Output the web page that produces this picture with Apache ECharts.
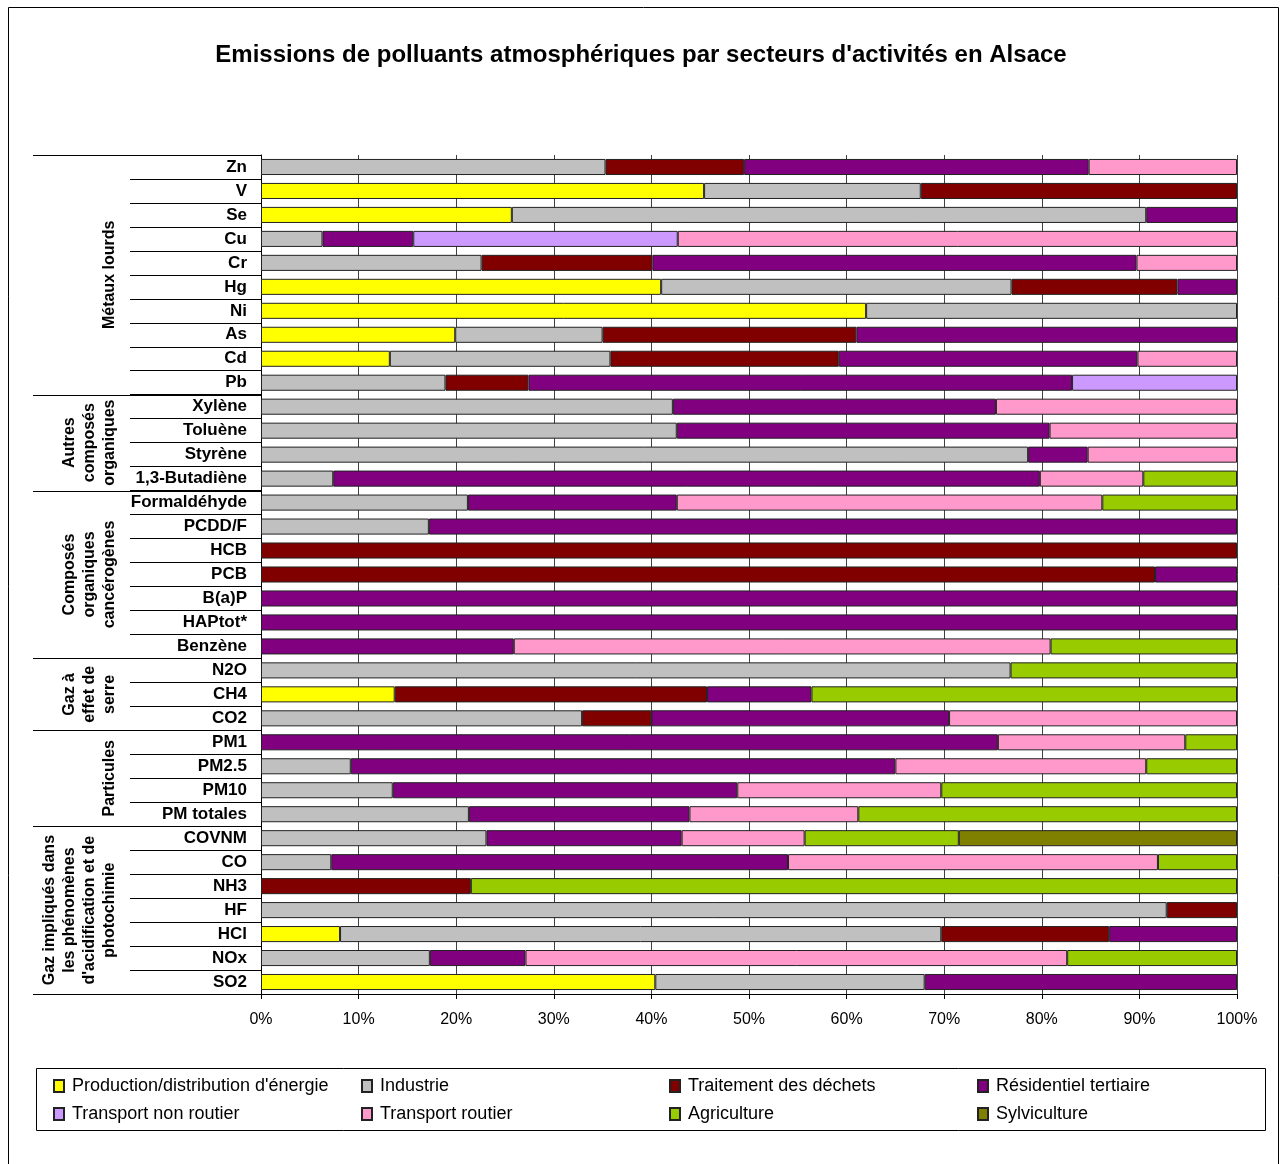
<!DOCTYPE html>
<html><head><meta charset="utf-8">
<script src="https://cdn.jsdelivr.net/npm/echarts@6/dist/echarts.min.js"></script>
<style>html,body{margin:0;padding:0;background:#fff}#c{width:1282px;height:1164px}</style>
</head><body><div id="c"></div><script>
const _ = null;
const FONT = 'Liberation Sans, Arial, sans-serif';
const titleText = "Emissions de polluants atmosphériques par secteurs d'activités en Alsace";
const categories = ['Zn','V','Se','Cu','Cr','Hg','Ni','As','Cd','Pb',
  'Xylène','Toluène','Styrène','1,3-Butadiène',
  'Formaldéhyde','PCDD/F','HCB','PCB','B(a)P','HAPtot*','Benzène',
  'N2O','CH4','CO2',
  'PM1','PM2.5','PM10','PM totales',
  'COVNM','CO','NH3','HF','HCl','NOx','SO2'];
const groupLabels = ['Métaux lourds', 'Autres\ncomposés\norganiques', 'Composés\norganiques\ncancérogènes',
  'Gaz à\neffet de\nserre', 'Particules', "Gaz impliqués dans\nles phénomènes\nd'acidification et de\nphotochimie"];
const groupSizes = [10, 4, 7, 3, 4, 7];
const seriesNames = ["Production/distribution d'énergie", 'Industrie', 'Traitement des déchets', 'Résidentiel tertiaire',
  'Transport non routier', 'Transport routier', 'Agriculture', 'Sylviculture'];
const seriesColors = ['#FFFF00', '#C0C0C0', '#800000', '#800080', '#CC99FF', '#FF99CC', '#99CC00', '#808000'];
const xTicks = [0, 10, 20, 30, 40, 50, 60, 70, 80, 90, 100];

//                Zn   V    Se   Cu   Cr   Hg   Ni   As   Cd   Pb   Xyl  Tol  Sty  But  Form PCDD HCB  PCB  BaP  HAP  Benz N2O  CH4  CO2  PM1  PM25 PM10 PMt  COV  CO   NH3  HF   HCl  NOx  SO2
const energie =    [_,   45.4,25.7,_,   _,   41.0,62.0,19.9,13.2,_,   _,   _,   _,   _,   _,   _,   _,   _,   _,   _,   _,   _,   13.7,_,   _,   _,   _,   _,   _,   _,   _,   _,   8.1, _,   40.4];
const industrie =  [35.3,22.2,65.0,6.3, 22.6,35.9,38.0,15.1,22.6,18.9,42.2,42.6,78.6,7.4, 21.2,17.2,_,   _,   _,   _,   _,   76.8,_,   32.9,_,   9.2, 13.5,21.3,23.1,7.2, _,   92.8,61.6,17.3,27.6];
const dechets =    [14.2,32.4,_,   _,   17.5,17.0,_,   26.0,23.4,8.5, _,   _,   _,   _,   _,   _,   100, 91.6,_,   _,   _,   _,   32.0,7.1, _,   _,   _,   _,   _,   _,   21.5,7.2, 17.2,_,   _];
const residentiel =[35.3,_,   9.3, 9.3, 49.6,6.1, _,   39.0,30.6,55.7,33.1,38.2,6.1, 72.4,21.4,82.8,_,   8.4, 100, 100, 25.9,_,   10.7,30.5,75.5,55.8,35.3,22.6,20.0,46.8,_,   _,   13.1,9.8, 32.0];
const nonRoutier = [_,   _,   _,   27.1,_,   _,   _,   _,   _,   16.9,_,   _,   _,   _,   _,   _,   _,   _,   _,   _,   _,   _,   _,   _,   _,   _,   _,   _,   _,   _,   _,   _,   _,   _,   _];
const routier =    [15.2,_,   _,   57.3,10.3,_,   _,   _,   10.2,_,   24.7,19.2,15.3,10.6,43.6,_,   _,   _,   _,   _,   55.0,_,   _,   29.5,19.2,25.7,20.9,17.3,12.6,37.9,_,   _,   _,   55.5,_];
const agriculture =[_,   _,   _,   _,   _,   _,   _,   _,   _,   _,   _,   _,   _,   9.6, 13.8,_,   _,   _,   _,   _,   19.1,23.2,43.6,_,   5.3, 9.3, 30.3,38.8,15.8,8.1, 78.5,_,   _,   17.4,_];
const sylviculture=[_,   _,   _,   _,   _,   _,   _,   _,   _,   _,   _,   _,   _,   _,   _,   _,   _,   _,   _,   _,   _,   _,   _,   _,   _,   _,   _,   _,   28.5,_,   _,   _,   _,   _,   _];
const seriesData = [energie, industrie, dechets, residentiel, nonRoutier, routier, agriculture, sylviculture];

const chart = echarts.init(document.getElementById('c'), null, {renderer: 'canvas'});

const legendCols = [[0, 4], [1, 5], [2, 6], [3, 7]];
const legendLefts = [53, 361, 669, 977];

const option = {
  backgroundColor: '#fff',
  animation: false,
  title: {
    text: titleText, left: 'center', top: 38,
    textStyle: {fontFamily: FONT, fontSize: 24, fontWeight: 'bold', color: '#000'}
  },
  grid: {left: 261, right: 45, top: 155, bottom: 170, containLabel: false},
  xAxis: {
    type: 'value', min: xTicks[0], max: xTicks[xTicks.length - 1], interval: xTicks[1] - xTicks[0],
    axisLine: {show: true, lineStyle: {color: '#000', width: 1}},
    axisTick: {show: true, length: 5, lineStyle: {color: '#000'}},
    axisLabel: {formatter: '{value}%', margin: 18, color: '#000', fontFamily: FONT, fontSize: 16},
    splitLine: {show: true, lineStyle: {color: '#404040', width: 1}}
  },
  yAxis: {
    type: 'category', data: categories, inverse: true,
    axisLine: {show: true, lineStyle: {color: '#000', width: 1}},
    axisTick: {show: true, length: 131, interval: 0, lineStyle: {color: '#000', width: 1}},
    axisLabel: {interval: 0, margin: 14, color: '#000', fontFamily: FONT, fontSize: 17, fontWeight: 'bold',
      padding: [7, 0, 0, 0]},
    splitLine: {show: false}
  },
  legend: legendCols.map((col, i) => ({
    data: col.map(k => seriesNames[k]),
    orient: 'vertical', left: legendLefts[i], top: 1077, padding: 0,
    itemWidth: 10, itemHeight: 12, itemGap: 10, icon: 'rect', selectedMode: false,
    textStyle: {fontFamily: FONT, fontSize: 18, color: '#000', lineHeight: 18, padding: [0, 0, 0, 3]}
  })),
  series: seriesNames.map((name, k) => ({
    name, type: 'bar', stack: 'total', data: seriesData[k],
    barCategoryGap: '33%',
    itemStyle: {color: seriesColors[k], borderColor: '#222', borderWidth: 1}
  }))
};
chart.setOption(option);

// multi-level category decorations, positioned through the axis scale
const c0 = chart.convertToPixel({yAxisIndex: 0}, 0);
const c1 = chart.convertToPixel({yAxisIndex: 0}, 1);
const band = c1 - c0;
const axisX = chart.convertToPixel({xAxisIndex: 0}, 0);
const graphics = [];
graphics.push({type: 'rect', z: 0, silent: true, shape: {x: 8.5, y: 7.5, width: 1270, height: 1170},
  style: {fill: null, stroke: '#000', lineWidth: 1}});
graphics.push({type: 'rect', silent: true, shape: {x: 36.5, y: 1068.5, width: 1229, height: 62},
  style: {fill: null, stroke: '#000', lineWidth: 1}});
let start = 0;
const bounds = [];
groupSizes.forEach(n => { bounds.push(start); start += n; });
bounds.push(start);
bounds.forEach(idx => {
  const y = Math.round(chart.convertToPixel({yAxisIndex: 0}, Math.min(idx, categories.length - 1)) + (idx < categories.length ? -band / 2 : band / 2)) + 0.5;
  graphics.push({type: 'line', silent: true, shape: {x1: 33, y1: y, x2: axisX, y2: y}, style: {stroke: '#000', lineWidth: 1}});
});
start = 0;
groupSizes.forEach((n, g) => {
  const yTop = chart.convertToPixel({yAxisIndex: 0}, start) - band / 2;
  const yBot = chart.convertToPixel({yAxisIndex: 0}, start + n - 1) + band / 2;
  const lines = groupLabels[g].split('\n').length;
  graphics.push({type: 'text', silent: true, x: 110 - (lines - 1) * 10, y: (yTop + yBot) / 2, rotation: Math.PI / 2,
    style: {text: groupLabels[g], fontFamily: FONT, fontSize: 16, fontWeight: 'bold', fill: '#000',
      align: 'center', verticalAlign: 'middle', lineHeight: 20}});
  start += n;
});
chart.setOption({graphic: graphics});
</script></body></html>
